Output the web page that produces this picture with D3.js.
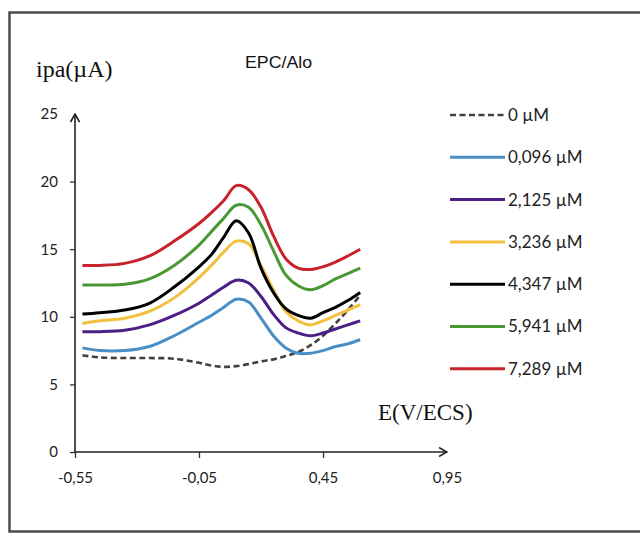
<!DOCTYPE html>
<html>
<head>
<meta charset="utf-8">
<script src="https://cdn.jsdelivr.net/npm/d3@7"></script>
<style>
  body { margin: 0; background: #fff; }
  svg { display: block; }
</style>
</head>
<body>
<svg width="640" height="535"></svg>
<script>
// potential grid (V/ECS) shared by all curves
const potentials = [-0.52, -0.45, -0.35, -0.25, -0.15, -0.05, 0, 0.05, 0.1, 0.15, 0.2, 0.25, 0.3, 0.35, 0.4, 0.45, 0.5, 0.55, 0.6];

const concLabels = ['0 µM', '0,096 µM', '2,125 µM', '3,236 µM', '4,347 µM', '5,941 µM', '7,289 µM'];
const concColors = ['#404040', '#4a8ec6', '#4b1f86', '#f2c03c', '#000000', '#4a9834', '#c8232b'];

// ipa (µA)
const ipa0    = [7.15, 7.0, 6.95, 6.95, 6.9, 6.6, 6.4, 6.3, 6.35, 6.5, 6.7, 6.85, 7.1, 7.4, 7.9, 8.6, 9.5, 10.5, 11.6];
const ipa0096 = [7.7, 7.5, 7.5, 7.8, 8.6, 9.6, 10.1, 10.7, 11.3, 11.1, 9.9, 8.6, 7.7, 7.3, 7.3, 7.5, 7.8, 8.0, 8.3];
const ipa2125 = [8.9, 8.9, 9.0, 9.4, 10.1, 11.0, 11.6, 12.2, 12.7, 12.5, 11.5, 10.2, 9.2, 8.8, 8.6, 8.8, 9.1, 9.4, 9.7];
const ipa3236 = [9.5, 9.7, 9.9, 10.4, 11.4, 12.9, 13.8, 14.8, 15.6, 15.4, 13.8, 12.0, 10.4, 9.7, 9.4, 9.7, 10.1, 10.5, 10.9];
const ipa4347 = [10.2, 10.3, 10.5, 11.0, 12.2, 13.7, 14.6, 15.9, 17.1, 16.2, 13.6, 11.8, 10.6, 10.1, 9.9, 10.3, 10.7, 11.2, 11.8];
const ipa5941 = [12.35, 12.35, 12.4, 12.8, 13.8, 15.3, 16.3, 17.3, 18.25, 18.1, 16.8, 14.9, 13.1, 12.3, 12.0, 12.3, 12.8, 13.2, 13.6];
const ipa7289 = [13.8, 13.8, 13.95, 14.5, 15.6, 16.9, 17.7, 18.6, 19.7, 19.4, 18.1, 16.0, 14.3, 13.6, 13.5, 13.7, 14.05, 14.5, 15.0];

const xTicks = [-0.55, -0.05, 0.45, 0.95];
const yTicks = [0, 5, 10, 15, 20, 25];

const series = [ipa0, ipa0096, ipa2125, ipa3236, ipa4347, ipa5941, ipa7289].map((vals, i) => ({
    label: concLabels[i],
    color: concColors[i],
    points: vals.map((v, j) => [potentials[j], v])
}));

const svg = d3.select('svg');

// outer frame (open on the right, like the cropped figure)
svg.append('rect')
    .attr('x', 9.5).attr('y', 12.5)
    .attr('width', 660).attr('height', 519)
    .attr('fill', 'none')
    .attr('stroke', '#4a4a4a')
    .attr('stroke-width', 2.5);

const x = d3.scaleLinear().domain([-0.55, 0.95]).range([75, 447]);
const y = d3.scaleLinear().domain([0, 25]).range([452, 114]);

const fmt = d => d3.format('.2f')(d).replace('−', '-').replace('.', ',');

svg.append('defs').append('marker')
    .attr('id', 'arrow')
    .attr('viewBox', '0 0 10 10')
    .attr('refX', 9).attr('refY', 5)
    .attr('markerWidth', 10).attr('markerHeight', 10)
    .attr('markerUnits', 'userSpaceOnUse')
    .attr('orient', 'auto')
    .append('path')
    .attr('d', 'M1,0.5 L9,5 L1,9.5')
    .attr('fill', 'none')
    .attr('stroke', '#222')
    .attr('stroke-width', 1.6);

// y axis
const yAxis = svg.append('g')
    .attr('transform', `translate(${x(-0.55)},0)`)
    .call(d3.axisLeft(y).tickValues(yTicks).tickSize(5).tickPadding(12).tickFormat(d3.format('d')));
yAxis.select('.domain').remove();
yAxis.selectAll('.tick').filter(d => d === 25).select('line').remove();
yAxis.selectAll('.tick line').attr('stroke', '#333').attr('stroke-width', 1.3);
yAxis.selectAll('text')
    .attr('fill', '#222')
    .style('font', '15px Lato, "Liberation Sans", sans-serif');

// x axis
const xAxis = svg.append('g')
    .attr('transform', `translate(0,${y(0)})`)
    .call(d3.axisBottom(x).tickValues(xTicks).tickSize(6).tickPadding(14).tickFormat(fmt));
xAxis.select('.domain').remove();
xAxis.selectAll('.tick').filter(d => d === 0.95).select('line').remove();
xAxis.selectAll('.tick line').attr('stroke', '#333').attr('stroke-width', 1.3);
xAxis.selectAll('text')
    .attr('fill', '#222')
    .style('font', '15px Lato, "Liberation Sans", sans-serif');

svg.append('line')
    .attr('x1', x(-0.55)).attr('y1', y(0))
    .attr('x2', x(-0.55)).attr('y2', y(25))
    .attr('stroke', '#222').attr('stroke-width', 1.6)
    .attr('marker-end', 'url(#arrow)');

svg.append('line')
    .attr('x1', x(-0.55)).attr('y1', y(0))
    .attr('x2', x(0.95)).attr('y2', y(0))
    .attr('stroke', '#222').attr('stroke-width', 1.6)
    .attr('marker-end', 'url(#arrow)');

// curves
const line = d3.line()
    .x(d => x(d[0]))
    .y(d => y(d[1]))
    .curve(d3.curveCatmullRom.alpha(0.5));

svg.append('g').selectAll('path').data(series)
    .enter().append('path')
    .attr('d', d => line(d.points))
    .attr('fill', 'none')
    .attr('stroke', d => d.color)
    .attr('stroke-width', (d, i) => i === 0 ? 2.6 : 3)
    .attr('stroke-dasharray', (d, i) => i === 0 ? '6,3.5' : null)
    .attr('stroke-linejoin', 'round');

// legend
const legend = svg.append('g').selectAll('g').data(series)
    .enter().append('g')
    .attr('transform', (d, i) => `translate(450,${115 + i * 42.3})`);

legend.append('line')
    .attr('x1', 0).attr('x2', 55)
    .attr('stroke', d => d.color)
    .attr('stroke-width', (d, i) => i === 0 ? 2.6 : 3)
    .attr('stroke-dasharray', (d, i) => i === 0 ? '6,3.5' : null);

legend.append('text')
    .attr('x', 58)
    .attr('dy', '0.35em')
    .attr('fill', '#222')
    .style('font', '17px Lato, "Liberation Sans", sans-serif')
    .text(d => d.label);

// titles
svg.append('text')
    .attr('x', 36).attr('y', 77)
    .attr('fill', '#111')
    .style('font', '24px "Liberation Serif", "Times New Roman", serif')
    .text('ipa(µA)');

svg.append('text')
    .attr('x', 245).attr('y', 68)
    .attr('fill', '#111')
    .attr('textLength', 67)
    .attr('lengthAdjust', 'spacingAndGlyphs')
    .style('font', '17px "Liberation Sans", Arial, sans-serif')
    .text('EPC/Alo');

svg.append('text')
    .attr('x', 378).attr('y', 420)
    .attr('fill', '#111')
    .style('font', '23px "Liberation Serif", "Times New Roman", serif')
    .text('E(V/ECS)');
</script>
</body>
</html>
